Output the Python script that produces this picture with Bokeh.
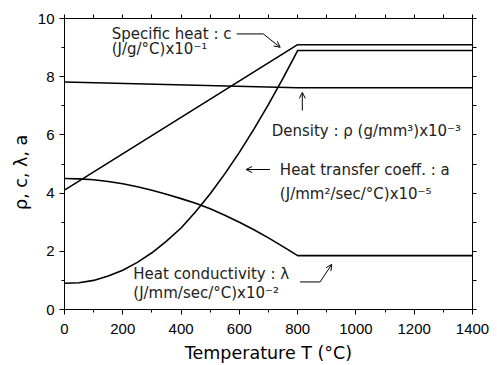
from bokeh.plotting import figure
from bokeh.models import (Range1d, LinearAxis, SingleIntervalTicker, FixedTicker,
                          Arrow, OpenHead, ColumnDataSource)
from bokeh.core.properties import value
from bokeh.embed import file_html
from bokeh.resources import INLINE

# Material properties versus temperature
temp_lin = [0, 800, 1400]
specific_heat = [4.1, 9.1, 9.1]          # c  (J/g/°C) x10^-1
density = [7.82, 7.62, 7.62]             # rho (g/mm^3) x10^-3

temp_curve = [0, 50, 100, 150, 200, 250, 300, 350, 400, 450, 500, 550,
              600, 650, 700, 750, 800, 1400]
conductivity = [0.90, 0.92, 1.00, 1.15, 1.35, 1.62, 1.95, 2.35, 2.80, 3.36,
                3.98, 4.66, 5.40, 6.20, 7.05, 7.95, 8.90, 8.90]   # lambda x10^-2
transfer = [4.50, 4.49, 4.46, 4.40, 4.32, 4.22, 4.10, 3.96, 3.81, 3.65,
            3.46, 3.24, 3.00, 2.74, 2.46, 2.16, 1.85, 1.85]       # a x10^-5

x_ticks_interval = 200
y_ticks_interval = 2

TXT_FONT = "DejaVu Sans"
TICK_FONT = "Liberation Sans"

p = figure(width=497, height=365, output_backend="svg", toolbar_location=None,
           x_range=Range1d(0, 1400), y_range=Range1d(0, 10),
           frame_width=408, frame_height=291,
           min_border_left=64, min_border_right=25,
           min_border_top=18, min_border_bottom=56)
p.grid.visible = False
p.outline_line_color = "black"
p.outline_line_width = 1
p.background_fill_color = "white"
p.border_fill_color = "white"

def style_axis(ax, ticker):
    ax.ticker = ticker
    ax.axis_line_color = "black"
    ax.axis_line_width = 1
    ax.major_tick_line_color = "black"
    ax.minor_tick_line_color = "black"
    ax.major_tick_in = 0
    ax.major_tick_out = 5
    ax.minor_tick_in = 0
    ax.minor_tick_out = 3

xt = SingleIntervalTicker(interval=x_ticks_interval, num_minor_ticks=2)
yt = SingleIntervalTicker(interval=y_ticks_interval, num_minor_ticks=2)

style_axis(p.xaxis[0], xt)
style_axis(p.yaxis[0], yt)
for ax in (p.xaxis[0], p.yaxis[0]):
    ax.major_label_text_font = TICK_FONT
    ax.major_label_text_font_size = "15px"
    ax.major_label_text_color = "black"
p.xaxis[0].major_label_standoff = 9
p.yaxis[0].major_label_standoff = 5

p.xaxis[0].axis_label = "Temperature T (°C)"
p.yaxis[0].axis_label = "ρ,  c,  λ,  a"
for ax in (p.xaxis[0], p.yaxis[0]):
    ax.axis_label_text_font = TXT_FONT
    ax.axis_label_text_font_size = "17.5px"
    ax.axis_label_text_font_style = "normal"
    ax.axis_label_text_color = "black"
p.xaxis[0].axis_label_standoff = 6
p.yaxis[0].axis_label_standoff = 4

# Mirror ticks on the top and right edges, without labels
top = LinearAxis()
right = LinearAxis()
style_axis(top, FixedTicker(ticks=[], minor_ticks=list(range(0, 1401, 100))))
style_axis(right, FixedTicker(ticks=[], minor_ticks=list(range(0, 11, 1))))
for ax in (top, right):
    ax.minor_tick_out = 4
p.add_layout(top, "above")
p.add_layout(right, "right")

# Property curves
for xs, ys in ((temp_lin, specific_heat), (temp_lin, density),
               (temp_curve, conductivity), (temp_curve, transfer)):
    p.line(xs, ys, line_color="black", line_width=1.6)

# Annotation text
labels = ColumnDataSource(dict(
    x=[162, 162, 711, 739, 739, 236, 236],
    y=[9.47, 8.95, 6.15, 4.81, 3.98, 1.235, 0.55],
    t=["Specific heat : c", "(J/g/°C)x10⁻¹",
       "Density : ρ  (g/mm³)x10⁻³",
       "Heat transfer coeff. : a", "(J/mm²/sec/°C)x10⁻⁵",
       "Heat conductivity : λ", "(J/mm/sec/°C)x10⁻²"],
))
p.text(x="x", y="y", text="t", source=labels, text_font=value(TXT_FONT),
       text_font_size="15px", text_align="left", text_baseline="middle",
       text_color="#222222")

# Leader lines and arrows
p.line([591, 682], [9.47, 9.47], line_color="black", line_width=1)
p.add_layout(Arrow(x_start=682, y_start=9.47, x_end=740, y_end=9.01,
                   line_width=1, end=OpenHead(size=6, line_width=1)))
p.add_layout(Arrow(x_start=816, y_start=6.84, x_end=816, y_end=7.46,
                   line_width=1, end=OpenHead(size=6, line_width=1)))
p.add_layout(Arrow(x_start=705, y_start=4.81, x_end=623, y_end=4.81,
                   line_width=1, end=OpenHead(size=6, line_width=1)))
p.line([808, 877], [0.947, 0.947], line_color="black", line_width=1)
p.add_layout(Arrow(x_start=877, y_start=0.947, x_end=917, y_end=1.55,
                   line_width=1, end=OpenHead(size=6, line_width=1)))

open("out.html", "w").write(file_html(p, INLINE))
